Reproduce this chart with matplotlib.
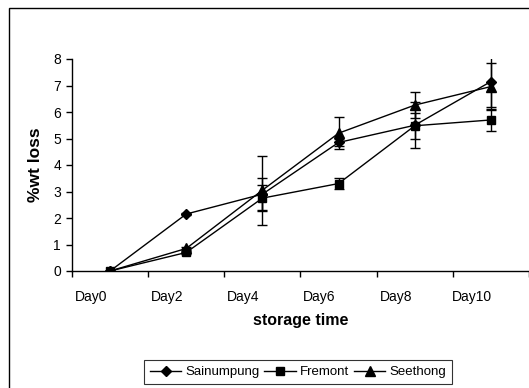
import matplotlib
matplotlib.use("Agg")
import matplotlib.pyplot as plt
from matplotlib.patches import Rectangle
from matplotlib.lines import Line2D
import numpy as np

categories = ["Day0", "Day2", "Day4", "Day6", "Day8", "Day10"]
sainumpung = [0.0, 2.15, 2.9, 4.85, 5.5, 7.15]
sainumpung_err = [0.0, 0.05, 0.6, 0.15, 0.87, 0.97]
fremont = [0.0, 0.7, 2.75, 3.3, 5.48, 5.7]
fremont_err = [0.0, 0.05, 0.5, 0.2, 0.48, 0.4]
seethong = [0.0, 0.85, 3.05, 5.2, 6.26, 6.96]
seethong_err = [0.0, 0.05, 1.3, 0.6, 0.5, 0.9]
y_ticks = [0, 1, 2, 3, 4, 5, 6, 7, 8]

plt.rcParams['font.family'] = ['Liberation Sans', 'DejaVu Sans']

W, H = 529, 388
fig = plt.figure(figsize=(W / 100, H / 100), dpi=100)
fig.patch.set_facecolor("white")

# outer chart border
fig.patches.append(Rectangle((9 / W, -0.1), 1.2, 1 - 7.5 / H + 0.1,
                             transform=fig.transFigure, fill=False,
                             edgecolor="black", linewidth=1.0, clip_on=False))

left, right = 72 / W, 1.0
bottom, top = 1 - 271 / H, 1 - 59 / H
ax = fig.add_axes([left, bottom, right - left, top - bottom])

x = np.arange(len(categories))
series = [
    ("Sainumpung", sainumpung, sainumpung_err, "D", 5),
    ("Fremont", fremont, fremont_err, "s", 5.5),
    ("Seethong", seethong, seethong_err, "^", 6.5),
]
handles = []
for name, vals, errs, mk, ms in series:
    ax.errorbar(x, vals, yerr=errs, color="black", marker=mk, markersize=ms,
                linewidth=1.0, elinewidth=1.0, capsize=3.3, capthick=1.0)
    handles.append(Line2D([], [], color="black", marker=mk, markersize=ms,
                          linewidth=1.0, label=name))

ax.set_xlim(-0.5, len(categories) - 0.5)
ax.set_ylim(0, 8)
ax.set_yticks(y_ticks)
ax.set_yticklabels([str(v) for v in y_ticks], fontsize=10)

ax.set_xticks(x - 0.25)
ax.set_xticklabels(categories, fontsize=10)
ax.tick_params(axis="x", which="major", length=0, pad=13.5)
ax.set_xticks(np.arange(-0.5, len(categories) + 0.5, 1.0), minor=True)
ax.tick_params(axis="x", which="minor", length=4, direction="out", width=1)
ax.tick_params(axis="y", which="major", length=4, direction="out", width=1, pad=4)

for s in ["top", "right"]:
    ax.spines[s].set_visible(False)
for s in ["left", "bottom"]:
    ax.spines[s].set_linewidth(1.0)

ax.set_xlabel("storage time", fontsize=11.5, fontweight="bold", labelpad=7)
ax.set_ylabel("%wt loss", fontsize=12.5, fontweight="bold", labelpad=7)

leg = fig.legend(handles=handles, loc="center",
                 bbox_to_anchor=(298 / W, 1 - 372 / H), ncol=3,
                 fontsize=9.5, frameon=True, fancybox=False, edgecolor="black",
                 handlelength=2.4, columnspacing=0.35, handletextpad=0.3,
                 borderpad=0.45, borderaxespad=0)
leg.get_frame().set_linewidth(0.8)

fig.savefig("out.png", dpi=100)
